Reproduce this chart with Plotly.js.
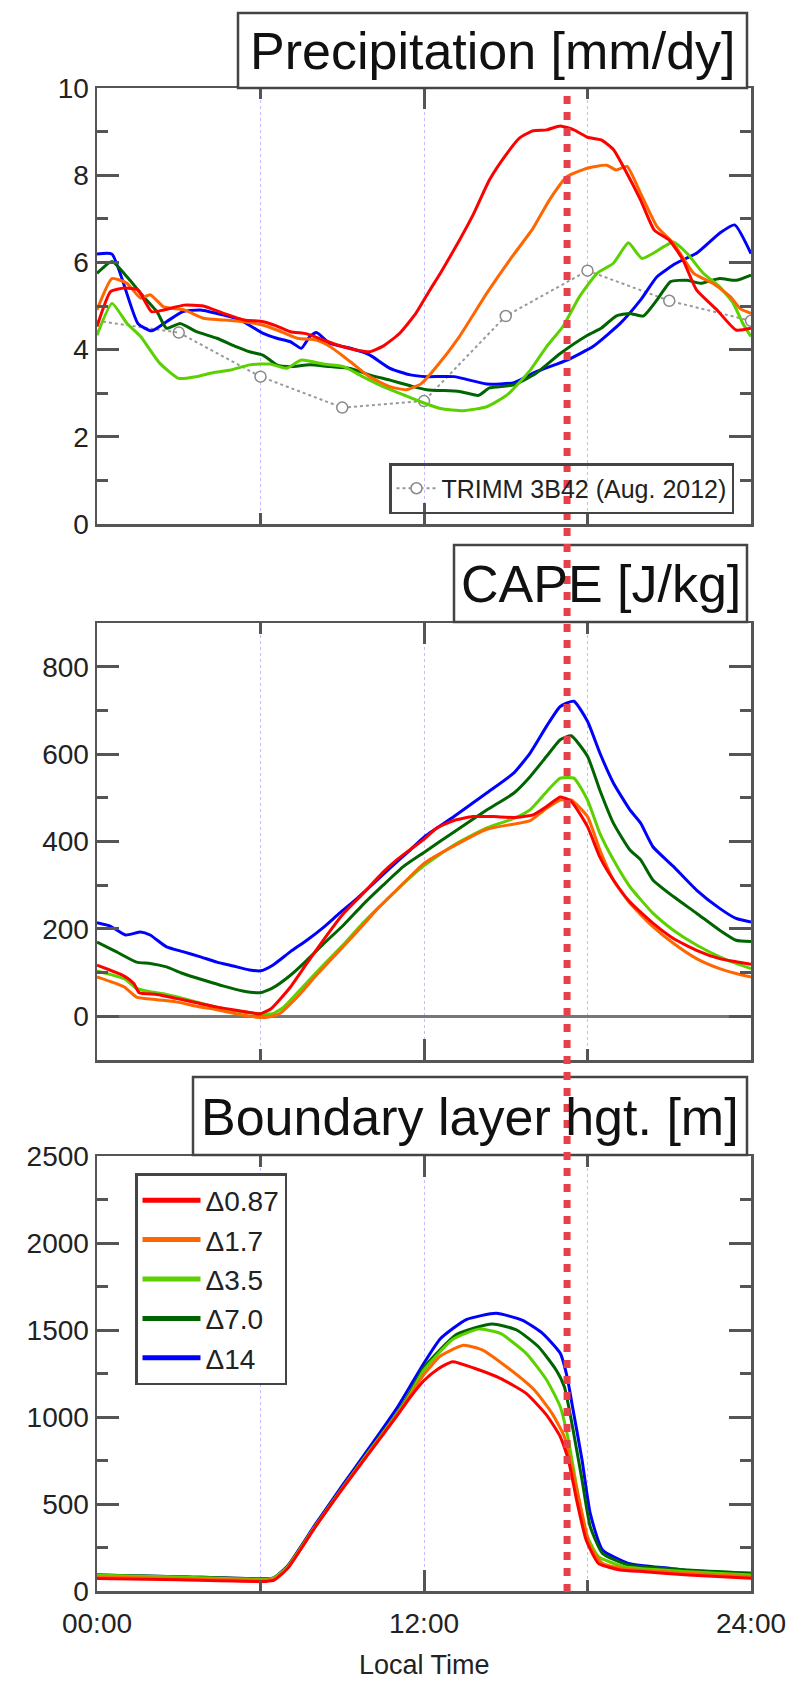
<!DOCTYPE html>
<html><head><meta charset="utf-8">
<script src="https://cdn.plot.ly/plotly-3.0.1.min.js"></script>
<style>html,body{margin:0;padding:0;background:#fff}</style>
</head><body>
<div id="chart" style="width:791px;height:1684px"></div>
<script>
// ---------------- DATA ----------------
const seriesNames = ['Δ0.87', 'Δ1.7', 'Δ3.5', 'Δ7.0', 'Δ14'];
const hourTicks = [0, 12, 24];
const hourLabels = ['00:00', '12:00', '24:00'];
const minorHourTicks = [6, 18];
const markerHour = 17.25;

// Precipitation [mm/dy]
const prRedT = [0,0.5,1.0,1.5,2.0,2.45,3.2,3.9,4.65,5.4,6.1,6.6,7.1,7.7,8.3,9.0,9.5,10.0,10.5,11.1,11.7,12.2,12.6,13.3,13.8,14.4,15.0,15.5,16.0,16.5,17.0,17.5,18.0,18.5,18.95,19.45,19.95,20.45,21.0,21.5,22.0,22.75,23.45,24];
const prRedV = [4.53,5.33,5.41,5.37,4.87,4.91,5.02,5.0,4.83,4.68,4.64,4.54,4.41,4.36,4.22,4.07,3.99,3.95,4.08,4.37,4.83,5.35,5.75,6.51,7.09,7.89,8.46,8.85,9.02,9.04,9.13,9.04,8.87,8.81,8.59,8.04,7.43,6.74,6.51,6.06,5.37,4.91,4.45,4.49];
const prOrgT = [0,0.55,1.1,1.6,1.95,2.45,3.2,3.9,4.65,5.4,6.1,6.6,7.35,8.05,8.55,9.3,10.0,10.75,11.35,11.9,12.45,13.3,14.3,15.15,16.0,16.6,17.25,18.0,18.7,19.05,19.45,19.95,20.55,21.15,21.9,22.6,23.25,23.6,24];
const prOrgV = [4.91,5.63,5.52,5.18,5.26,4.98,4.91,4.72,4.68,4.64,4.56,4.45,4.26,4.22,4.07,3.72,3.38,3.15,3.08,3.22,3.6,4.3,5.29,6.06,6.78,7.43,7.97,8.16,8.23,8.12,8.2,7.58,6.82,6.44,5.75,5.52,5.21,4.94,4.83];
const prLgT = [0,0.55,1.1,1.6,2.3,3.0,3.65,4.25,4.9,5.6,6.35,6.95,7.5,8.3,9.05,9.75,10.5,11.25,11.85,12.6,13.45,14.3,15.05,15.9,16.5,17.1,17.7,18.35,18.95,19.5,20.0,20.8,21.15,21.65,22.25,22.85,23.35,23.7,24];
const prLgV = [4.33,5.06,4.6,4.3,3.69,3.34,3.38,3.47,3.53,3.65,3.67,3.57,3.76,3.67,3.61,3.38,3.15,2.96,2.81,2.65,2.6,2.69,2.96,3.53,4.07,4.53,5.21,5.75,5.98,6.45,6.09,6.36,6.47,6.21,5.75,5.44,5.06,4.6,4.3];
const prDgT = [0,0.55,1.1,1.7,2.2,2.55,3.05,3.65,4.4,5.1,5.6,6.1,6.6,7.1,7.8,8.55,9.3,10.0,10.75,11.5,12.1,13.3,14.0,14.4,15.3,16.1,17.0,18.0,18.5,19.05,19.55,20.05,20.55,21.05,21.65,22.15,22.85,23.45,24];
const prDgV = [5.75,6.02,5.67,5.22,4.87,4.49,4.6,4.41,4.26,4.07,3.95,3.87,3.65,3.61,3.65,3.61,3.57,3.42,3.3,3.17,3.08,3.04,2.95,3.12,3.19,3.45,3.91,4.33,4.49,4.77,4.83,4.77,5.14,5.56,5.59,5.52,5.63,5.59,5.71];
const prBlT = [0,0.55,1.5,2.0,2.55,3.15,3.8,4.65,5.25,6.1,6.6,7.1,7.5,7.8,8.05,8.55,9.3,10.0,10.75,11.5,12.1,13.1,14.3,15.3,16.1,17.25,18.2,19.2,19.95,20.55,21.25,22.0,22.85,23.4,24];
const prBlV = [6.19,6.19,4.6,4.43,4.64,4.87,4.91,4.79,4.68,4.37,4.26,4.18,4.03,4.29,4.39,4.14,4.03,3.88,3.57,3.42,3.38,3.38,3.21,3.24,3.49,3.76,4.07,4.6,5.14,5.67,5.98,6.21,6.67,6.86,6.2];
const trmmName = 'TRIMM 3B42 (Aug. 2012)';
const trmmT = [0,3,6,9,12,15,18,21,24];
const trmmV = [4.66,4.39,3.38,2.67,2.82,4.77,5.81,5.12,4.66];

// CAPE [J/kg]
const cpRedT = [0,1.0,1.35,1.55,2.2,2.9,3.65,4.4,5.1,6.0,6.4,7.1,7.7,8.3,9.0,9.75,10.5,11.0,11.5,12.0,12.45,13.1,13.8,14.55,15.3,16.0,16.5,17.0,17.4,18.0,18.45,18.95,19.55,20.4,21.15,22.0,22.85,23.45,24];
const cpRedV = [117,92,75,54,50,41,31,21,14,6,18,67,121,174,232,280,330,358,382,405,430,448,457,457,455,461,480,502,492,434,365,312,262,213,178,151,132,125,119];
const cpOrgT = [0,1.0,1.45,2.2,2.9,3.65,4.4,5.1,5.85,6.25,6.7,7.35,8.05,8.8,9.55,10.25,11.0,12.0,13.1,14.3,15.3,15.9,16.5,17.0,17.4,18.0,18.45,18.95,19.55,20.4,21.15,22.0,22.85,23.45,24];
const cpOrgV = [90,67,44,38,33,23,15,6,-2,-2,6,44,94,144,194,243,289,350,390,428,440,448,476,495,495,457,381,312,259,205,167,132,109,98,90];
const cpLgT = [0,1.0,1.45,1.95,2.55,3.4,4.25,5.1,6.0,6.45,6.85,7.55,8.3,9.05,9.75,10.5,11.25,12.0,13.1,14.3,15.3,15.9,16.5,17.0,17.5,18.0,18.45,18.95,19.55,20.4,21.15,22.0,22.85,23.45,24];
const cpLgV = [104,86,64,56,50,37,23,12,6,6,21,67,117,165,213,259,304,345,392,431,453,473,514,545,545,495,419,358,297,236,197,163,136,121,109];
const cpDgT = [0,0.7,1.45,1.95,2.55,3.15,3.9,4.65,5.35,6.0,6.45,7.1,7.7,8.3,9.05,9.75,10.5,11.25,12.0,13.1,14.3,15.3,15.9,16.5,17.0,17.4,18.0,18.45,18.95,19.55,19.95,20.4,21.15,22.0,22.85,23.45,24];
const cpDgV = [170,148,124,121,113,98,83,69,58,54,65,94,128,165,209,255,300,343,375,422,472,511,549,595,633,642,595,518,442,381,358,312,274,236,197,174,171];
const cpBlT = [0,0.5,1.05,1.6,1.95,2.55,3.15,3.8,4.4,5.0,5.6,6.0,6.45,7.1,7.7,8.3,8.9,9.55,10.15,10.75,11.5,12.0,13.1,14.3,15.3,15.9,16.5,17.0,17.5,18.0,18.45,18.95,19.55,19.95,20.4,21.15,22.0,22.85,23.45,24];
const cpBlV = [214,206,186,193,186,159,148,136,124,115,106,104,117,148,174,203,236,270,304,339,381,410,457,511,557,603,664,709,721,675,603,534,473,442,388,343,289,247,224,216];

// Boundary layer height [m]
const blRedT = [0,3,6.2,6.5,7.0,8.0,9.0,10.0,11.0,11.5,12.0,12.5,13.05,13.85,14.8,15.75,16.5,17.0,17.3,17.6,17.95,18.4,19.2,20.1,21.7,24];
const blRedV = [72,64,55,62,130,365,585,795,1005,1115,1210,1275,1318,1280,1222,1136,1011,887,753,523,293,159,121,111,92,73];
const blOrgT = [0,3,6.2,6.5,7.0,8.0,9.0,10.0,11.0,11.5,12.0,12.6,13.45,14.15,15.1,16.05,16.7,17.15,17.45,17.8,18.1,18.55,19.5,21.7,24];
const blOrgV = [80,72,62,68,135,368,588,800,1010,1125,1245,1350,1412,1385,1280,1155,1021,887,695,446,255,159,125,102,82];
const blLgT = [0,3,6.2,6.5,7.0,8.0,9.0,10.0,11.0,11.5,12.0,13.05,14.0,14.8,15.75,16.5,17.0,17.3,17.6,17.95,18.4,19.35,21.7,24];
const blLgV = [90,80,68,75,140,370,590,805,1015,1135,1270,1445,1505,1480,1366,1213,1059,868,600,331,197,140,111,92];
const blDgT = [0,3,6.2,6.5,7.0,8.0,9.0,10.0,11.0,11.5,12.0,13.2,14.5,15.4,16.2,16.85,17.15,17.45,17.8,18.1,18.55,19.5,21.7,24];
const blDgV = [92,82,70,76,142,372,592,808,1020,1145,1285,1475,1535,1500,1404,1270,1174,944,638,370,216,149,121,102];
const blBlT = [0,3,6.2,6.5,7.0,8.0,9.0,10.0,11.0,11.5,12.0,12.6,13.55,14.65,15.6,16.35,17.0,17.25,17.45,17.8,18.1,18.55,19.5,21.05,22.0,24];
const blBlV = [92,82,70,76,145,380,605,825,1050,1180,1310,1450,1560,1596,1557,1481,1366,1232,1059,753,446,236,159,130,111,102];

const panelTitles = ['Precipitation [mm/dy]', 'CAPE [J/kg]', 'Boundary layer hgt. [m]'];
const xTitle = 'Local Time';

// ---------------- STYLE / LAYOUT ----------------
const W = 791, H = 1684;
const fx = p => p / W;
const fy = p => 1 - p / H;
const FONT = 'Liberation Sans, Arial, Helvetica, sans-serif';
const FRAME = '#555';
const GRID = 'rgba(110,110,255,0.45)';
const colors = ['#ff0000', '#ff6600', '#5cd100', '#006400', '#0000ff'];

const panels = [
  {xa: 'x', ya: 'y', data: [[prRedT, prRedV], [prOrgT, prOrgV], [prLgT, prLgV], [prDgT, prDgV], [prBlT, prBlV]]},
  {xa: 'x2', ya: 'y2', data: [[cpRedT, cpRedV], [cpOrgT, cpOrgV], [cpLgT, cpLgV], [cpDgT, cpDgV], [cpBlT, cpBlV]]},
  {xa: 'x3', ya: 'y3', data: [[blRedT, blRedV], [blOrgT, blOrgV], [blLgT, blLgV], [blDgT, blDgV], [blBlT, blBlV]]}
];

const traces = [];
// TRIMM observations (first segment drawn without a marker at 00:00)
traces.push({
  type: 'scatter', mode: 'lines+markers', x: trmmT.slice(1), y: trmmV.slice(1),
  xaxis: 'x', yaxis: 'y', name: trmmName, legend: 'legend2', hoverinfo: 'skip',
  line: {color: '#999', width: 2, dash: 'dot'},
  marker: {symbol: 'circle', size: 11, color: '#fff', line: {color: '#888', width: 1.5}}
});
traces.push({
  type: 'scatter', mode: 'lines', x: trmmT.slice(0, 2), y: trmmV.slice(0, 2),
  xaxis: 'x', yaxis: 'y', showlegend: false, hoverinfo: 'skip',
  line: {color: '#999', width: 2, dash: 'dot'}
});
panels.forEach(p => {
  for (let i = 4; i >= 0; i--) {
    traces.push({
      type: 'scatter', mode: 'lines', x: p.data[i][0], y: p.data[i][1],
      xaxis: p.xa, yaxis: p.ya, name: seriesNames[i],
      line: {color: colors[i], width: 3, shape: 'spline', smoothing: 0.5},
      showlegend: false, hoverinfo: 'skip'
    });
  }
});
// legend entries (thicker key lines, as in the original legend)
for (let i = 4; i >= 0; i--) {
  traces.push({
    type: 'scatter', mode: 'lines', x: [null], y: [null], xaxis: 'x3', yaxis: 'y3',
    name: seriesNames[i], legend: 'legend', showlegend: true, hoverinfo: 'skip',
    line: {color: colors[i], width: 5}
  });
}

function xAxis(yAnchor, showLabels) {
  return {
    domain: [fx(97), fx(751)], range: [0, 24], anchor: yAnchor, fixedrange: true,
    tickmode: 'array', tickvals: hourTicks, ticktext: hourLabels, showticklabels: showLabels,
    ticks: 'inside', ticklen: 21, tickwidth: 3, tickcolor: FRAME,
    minor: {tickmode: 'array', tickvals: minorHourTicks, ticks: 'inside', ticklen: 11, tickwidth: 3,
            tickcolor: FRAME, showgrid: true, gridcolor: GRID, griddash: 'dot', gridwidth: 1},
    showgrid: true, gridcolor: GRID, griddash: 'dot', gridwidth: 1,
    showline: true, linecolor: FRAME, linewidth: 2.5, mirror: 'ticks', zeroline: false,
    tickfont: {family: FONT, size: 28, color: '#222'}, ticklabelstandoff: 6
  };
}
function yAxis(top, bottom, range, dtick, minorDtick, xAnchor, zero) {
  return {
    domain: [fy(bottom), fy(top)], range: range, anchor: xAnchor, fixedrange: true,
    tickmode: 'linear', tick0: 0, dtick: dtick,
    ticks: 'inside', ticklen: 22, tickwidth: 3, tickcolor: FRAME,
    minor: {tickmode: 'linear', tick0: 0, dtick: minorDtick, ticks: 'inside', ticklen: 11, tickwidth: 3, tickcolor: FRAME, showgrid: false},
    showgrid: false, showline: true, linecolor: FRAME, linewidth: 2.5, mirror: 'ticks',
    zeroline: zero, zerolinecolor: '#777', zerolinewidth: 3,
    tickfont: {family: FONT, size: 28, color: '#222'}, ticklabelstandoff: 0
  };
}

const boxes = [
  {x0: 238, x1: 747, y0: 13, y1: 88},
  {x0: 454, x1: 747, y0: 545, y1: 622},
  {x0: 193, x1: 747, y0: 1077, y1: 1155}
];
const shapes = boxes.map(b => ({
  type: 'rect', xref: 'paper', yref: 'paper', layer: 'above',
  x0: fx(b.x0), x1: fx(b.x1), y0: fy(b.y1), y1: fy(b.y0),
  fillcolor: '#fff', line: {color: '#444', width: 2.5}
}));
shapes.push({
  type: 'line', xref: 'x', yref: 'paper', layer: 'above',
  x0: markerHour, x1: markerHour, y0: fy(1592), y1: fy(95),
  line: {color: '#e8404a', width: 7, dash: '8px,8px'}
});

const annotations = boxes.map((b, i) => ({
  xref: 'paper', yref: 'paper', x: fx((b.x0 + b.x1) / 2), y: fy((b.y0 + b.y1) / 2 + 1),
  xanchor: 'center', yanchor: 'middle', showarrow: false, text: panelTitles[i],
  font: {family: FONT, size: 52, color: '#111'}
}));
annotations.push({
  xref: 'paper', yref: 'paper', x: fx(424), y: fy(1665), xanchor: 'center', yanchor: 'middle',
  showarrow: false, text: xTitle, font: {family: FONT, size: 27, color: '#222'}
});

const layout = {
  width: W, height: H, autosize: false,
  margin: {l: 0, r: 0, t: 0, b: 0},
  paper_bgcolor: '#fff', plot_bgcolor: '#fff',
  font: {family: FONT, color: '#222'},
  xaxis: xAxis('y', false),
  xaxis2: xAxis('y2', false),
  xaxis3: xAxis('y3', true),
  yaxis: yAxis(88, 524, [0, 10], 2, 1, 'x', false),
  yaxis2: yAxis(623, 1060, [-100, 900], 200, 100, 'x2', true),
  yaxis3: yAxis(1156, 1591, [0, 2500], 500, 250, 'x3', false),
  legend: {x: fx(135), y: fy(1173), xanchor: 'left', yanchor: 'top', traceorder: 'reversed',
           itemwidth: 58, bgcolor: '#fff', bordercolor: '#444', borderwidth: 2.5,
           font: {family: FONT, size: 28, color: '#222'}},
  legend2: {x: fx(734), y: fy(514), xanchor: 'right', yanchor: 'bottom', itemwidth: 40,
            bgcolor: 'rgba(255,255,255,0)', bordercolor: '#444', borderwidth: 2.5,
            font: {family: FONT, size: 25, color: '#222'}},
  shapes: shapes,
  annotations: annotations,
  showlegend: true
};

Plotly.newPlot('chart', traces, layout, {displayModeBar: false, staticPlot: true});
</script>
</body></html>
